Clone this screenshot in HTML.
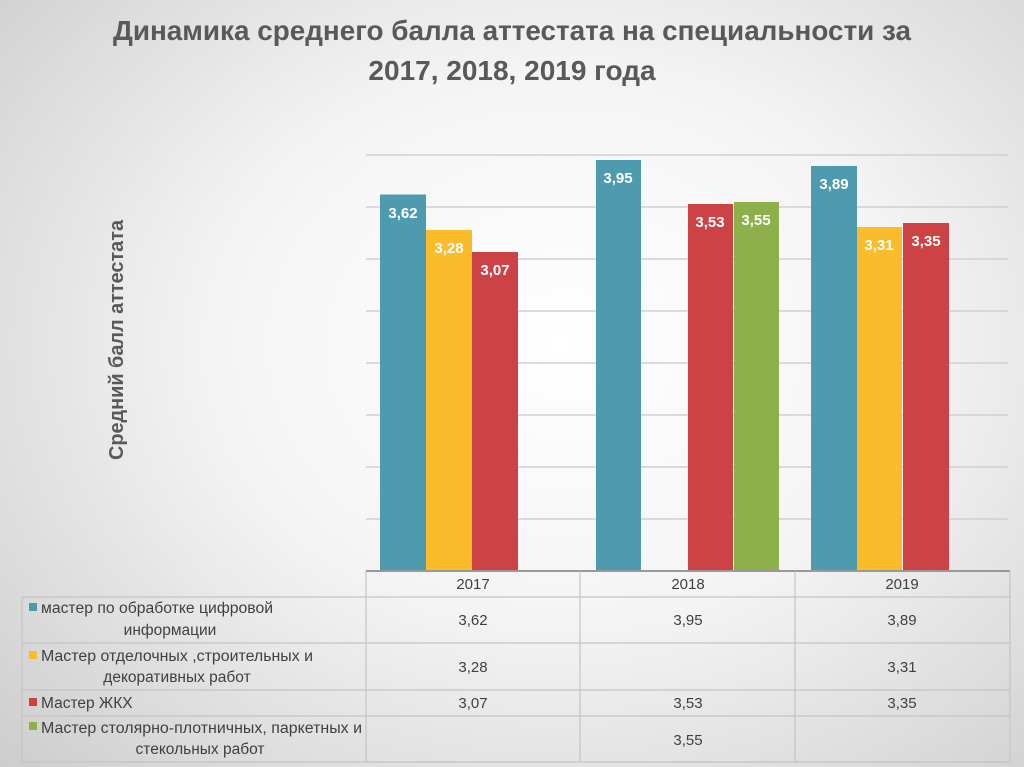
<!DOCTYPE html>
<html><head><meta charset="utf-8"><style>
html,body{margin:0;padding:0;}
body{width:1024px;height:767px;overflow:hidden;background:radial-gradient(ellipse 75% 80% at 55% 45%,#ffffff 0%,#f4f4f4 45%,#cdcdcd 100%);}
svg{position:absolute;left:0;top:0;font-family:"Liberation Sans","DejaVu Sans",sans-serif;}
</style></head><body>
<svg width="1024" height="767" viewBox="0 0 1024 767">
<text x="512" y="40" text-anchor="middle" font-size="28" font-weight="bold" fill="#595959" textLength="798" lengthAdjust="spacingAndGlyphs">Динамика среднего балла аттестата на специальности за</text>
<text x="512" y="80" text-anchor="middle" font-size="28" font-weight="bold" fill="#595959">2017, 2018, 2019 года</text>
<text transform="translate(123,340) rotate(-90)" text-anchor="middle" font-size="20" font-weight="bold" fill="#595959" textLength="240" lengthAdjust="spacingAndGlyphs">Средний балл аттестата</text>
<g stroke="#d0d0d0" stroke-width="1.5">
<line x1="366" y1="155" x2="1008" y2="155"/><line x1="366" y1="207" x2="1008" y2="207"/>
<line x1="366" y1="259" x2="1008" y2="259"/><line x1="366" y1="311" x2="1008" y2="311"/>
<line x1="366" y1="363" x2="1008" y2="363"/><line x1="366" y1="415" x2="1008" y2="415"/>
<line x1="366" y1="467" x2="1008" y2="467"/><line x1="366" y1="519" x2="1008" y2="519"/>
</g>
<g>
<rect x="380" y="194.5" width="46" height="376.5" fill="#4e9bb0"/>
<rect x="426" y="230" width="46" height="341" fill="#fbbc2c"/>
<rect x="472" y="252" width="46" height="319" fill="#cc4245"/>
<rect x="596" y="160" width="45" height="411" fill="#4e9bb0"/>
<rect x="688" y="204" width="45" height="367" fill="#cc4245"/>
<rect x="734" y="202" width="45" height="369" fill="#8db04a"/>
<rect x="811" y="166" width="46" height="405" fill="#4e9bb0"/>
<rect x="857" y="227" width="45" height="344" fill="#fbbc2c"/>
<rect x="903" y="223" width="46" height="348" fill="#cc4245"/>
</g>
<g font-size="15" font-weight="bold" fill="#ffffff" text-anchor="middle">
<text x="403" y="218">3,62</text><text x="449" y="253">3,28</text><text x="495" y="275">3,07</text>
<text x="618" y="183">3,95</text><text x="710" y="227">3,53</text><text x="756" y="225">3,55</text>
<text x="834" y="189">3,89</text><text x="879" y="250">3,31</text><text x="926" y="246">3,35</text>
</g>
<line x1="366" y1="571" x2="1010" y2="571" stroke="#999" stroke-width="2"/>
<g stroke="#c4c4c4" stroke-width="1.2" fill="none">
<line x1="22" y1="597" x2="1010" y2="597"/><line x1="22" y1="643" x2="1010" y2="643"/>
<line x1="22" y1="690" x2="1010" y2="690"/><line x1="22" y1="716" x2="1010" y2="716"/>
<line x1="22" y1="762" x2="1010" y2="762"/>
<line x1="22" y1="597" x2="22" y2="762"/><line x1="366" y1="571" x2="366" y2="762"/>
<line x1="580" y1="571" x2="580" y2="762"/><line x1="795" y1="571" x2="795" y2="762"/>
<line x1="1010" y1="571" x2="1010" y2="762"/>
</g>
<g font-size="15" fill="#404040" text-anchor="middle">
<text x="473" y="589">2017</text><text x="688" y="589">2018</text><text x="902" y="589">2019</text>
<text x="473" y="625">3,62</text><text x="688" y="625">3,95</text><text x="902" y="625">3,89</text>
<text x="473" y="672">3,28</text><text x="902" y="672">3,31</text>
<text x="473" y="708">3,07</text><text x="688" y="708">3,53</text><text x="902" y="708">3,35</text>
<text x="688" y="745">3,55</text>
</g>
<rect x="29" y="603" width="8" height="8" fill="#4e9bb0"/>
<rect x="29" y="651" width="8" height="8" fill="#fbbc2c"/>
<rect x="29" y="698" width="8" height="8" fill="#cc4245"/>
<rect x="29" y="722" width="8" height="8" fill="#8db04a"/>
<g font-size="15.5" fill="#404040">
<text x="41" y="613" textLength="232" lengthAdjust="spacingAndGlyphs">мастер по обработке цифровой</text>
<text x="170" y="635" text-anchor="middle">информации</text>
<text x="41" y="661" textLength="272" lengthAdjust="spacingAndGlyphs">Мастер отделочных ,строительных и</text>
<text x="177" y="682" text-anchor="middle">декоративных работ</text>
<text x="41" y="708">Мастер ЖКХ</text>
<text x="41" y="733" textLength="321" lengthAdjust="spacingAndGlyphs">Мастер столярно-плотничных, паркетных и</text>
<text x="200" y="754" text-anchor="middle">стекольных работ</text>
</g>
</svg>
</body></html>
